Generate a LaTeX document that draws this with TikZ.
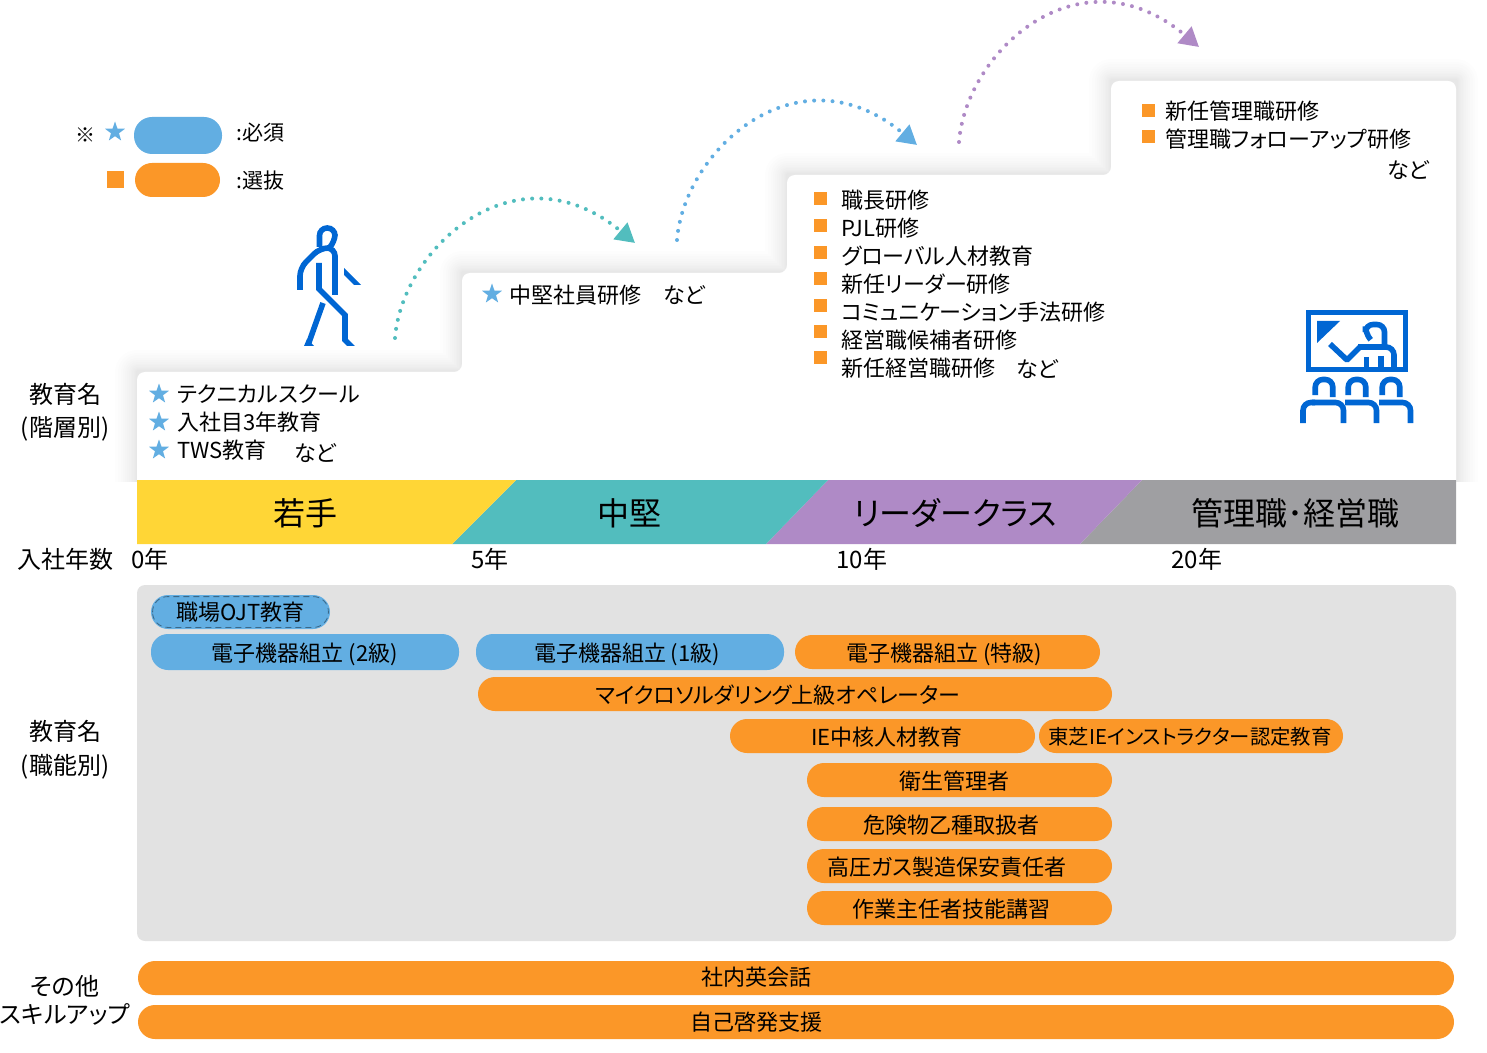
\documentclass[tikz,border=0pt]{standalone}
\usepackage{fontspec}
\setmainfont[RawFeature=+palt]{Noto Sans CJK JP}
\usetikzlibrary{positioning}
\usetikzlibrary{shapes.geometric,arrows.meta}
\definecolor{pillBlue}{HTML}{62AEE2}
\definecolor{pillOrange}{HTML}{FB9728}
\definecolor{bandYellow}{HTML}{FFD636}
\definecolor{bandTeal}{HTML}{52BDBE}
\definecolor{bandPurple}{HTML}{AF8AC6}
\definecolor{bandGray}{HTML}{9F9FA2}
\definecolor{panelGray}{HTML}{E2E2E2}
\definecolor{iconBlue}{HTML}{0066D3}
\definecolor{hopBlue}{HTML}{62AEE2}
\tikzset{
    pill/.style={rounded corners=8.5pt, inner sep=0pt, minimum height=17pt, text height=9.4pt, text depth=0pt, font=\fontsize{11}{13}\selectfont},
    pillB/.style={pill, fill=pillBlue, minimum width=#1*0.5pt},
    pillO/.style={pill, fill=pillOrange, minimum width=#1*0.5pt},
    pillText/.style={inner sep=0pt, text height=9.4pt, text depth=0pt, font=\fontsize{11}{13}\selectfont},
    bandText/.style={font=\fontsize{16}{18}\selectfont, inner sep=0pt},
    sideText/.style={font=\fontsize{12}{14}\selectfont, text height=9pt, text depth=0pt, inner sep=0pt},
    listText/.style={anchor=west, inner sep=0pt, text height=8.4pt, text depth=0pt, font=\fontsize{11}{13}\selectfont},
    starMark/.style={star, star points=5, star point ratio=2.5, fill=pillBlue, inner sep=0pt, minimum size=10.5pt},
    squareMark/.style={rectangle, fill=pillOrange, inner sep=0pt, minimum size=6.5pt},
    hop/.style={line width=2pt, dash pattern=on 0pt off 4.6pt, line cap=round, -{Triangle[length=9.5pt,width=10.5pt]}},
    icon/.style={iconBlue, line width=2.8pt},
}
\tikzset{
    walker/.pic={
		\clip (-2,-2) rectangle (70,121);
		\draw[icon, rounded corners=3.8pt] (22.5,22) -- (22.5,3) -- (38,3) -- (38,17) -- (33,22);
		\draw[icon, rounded corners=4pt] (3,65) -- (3,43) -- (23,23) -- (38,23) -- (38,70);
		\draw[icon] (22,38) -- (22,64) -- (48,90) -- (48,115) -- (57,124);
		\draw[icon] (26,78) -- (10,123);
		\fill[iconBlue] (10,114) -- (17,121) -- (7,121) -- cycle;
		\fill[iconBlue] (47,43) -- (64,60) -- (57,60) -- (47,50) -- cycle;
	}
}
\tikzset{
    seat/.pic={
		\draw[icon, rounded corners=3.8pt] (-8.75,18) -- (-8.75,2.5) -- (8.75,2.5) -- (8.75,20);
		\draw[icon, rounded corners=4pt] (-12,25.5) -- (19.5,25.5) -- (19.5,46);
	}
}
\begin{document}
\begin{tikzpicture}[x=0.5pt,y=-0.5pt]
	\useasboundingbox (0,0) rectangle (1487,1053);
	%stepped panel
	\foreach \w in {44,38,33,28,24,20,16,13,10,7,5,3}{
		\draw[black, opacity=0.006, line width=\w*0.5pt, line join=round] (137,482) -- (137,372) -- (462,372) -- (462,273) -- (787,273) -- (787,175) -- (1111,175) -- (1111,81) -- (1456,81) -- (1456,482);
	}
	\fill[white, rounded corners=4pt] (137,490) -- (137,372) -- (462,372) -- (462,273) -- (787,273) -- (787,175) -- (1111,175) -- (1111,81) -- (1456,81) -- (1456,490) -- cycle;
	%bands
	\fill[bandGray] (1142,480) -- (1456,480) -- (1456,544) -- (1080,544) -- cycle;
	\fill[bandPurple] (828,480) -- (1142,480) -- (1080,544) -- (766,544) -- cycle;
	\fill[bandTeal] (516,480) -- (828,480) -- (766,544) -- (452,544) -- cycle;
	\fill[bandYellow] (137,480) -- (516,480) -- (452,544) -- (137,544) -- cycle;
	\node[bandText] (young) at (305,513) {若手};
	\node[bandText] (middle) at (629,513) {中堅};
	\node[bandText] (leader) at (955,513) {リーダークラス};
	\node[bandText] (manager) at (1295,513) {管理職･経営職};
	%years
	\node[sideText] (joined) at (66,559) {入社年数};
	\node[sideText, anchor=west] (y0) at (131,559) {0年};
	\node[sideText, anchor=west] (y5) at (471,559) {5年};
	\node[sideText, anchor=west] (y10) at (836,559) {10年};
	\node[sideText, anchor=west] (y20) at (1171,559) {20年};
	%side labels
	\node[sideText] (rankA) at (65,394) {教育名};
	\node[sideText] (rankB) at (65,427) {(階層別)};
	\node[sideText] (jobA) at (65,731) {教育名};
	\node[sideText] (jobB) at (65,765) {(職能別)};
	\node[sideText] (otherA) at (65,986) {その他};
	\node[sideText] (otherB) at (65,1014) {スキルアップ};
	%legend
	\node[inner sep=0pt, font=\fontsize{10}{12}\selectfont] (note) at (85,135) {※};
	\node[starMark] (legStar) at (115,132) {};
	\node[squareMark, minimum size=8.5pt] (legSquare) at (115.5,179.5) {};
	\node[pillB=88, minimum height=18.5pt, rounded corners=9pt] (legBlue) at (178,135.5) {};
	\node[pillO=85] (legOrange) at (177.5,180) {};
	\node[listText, font=\fontsize{10.5}{13}\selectfont] (legMust) at (236,132) {:必須};
	\node[listText, font=\fontsize{10.5}{13}\selectfont] (legPick) at (236,180) {:選抜};
	%step lists
	\foreach \i/\ys/\yt/\txt in {1/394/394/テクニカルスクール,2/422/422/入社目3年教育,3/450/450/TWS教育}{
		\node[starMark] (sA\i) at (159,\ys) {};
		\node[listText] (tA\i) at (177,\yt) {\txt};
	}
	\node[listText] (tA4) at (294,453) {など};
	\node[starMark] (sB1) at (492,294) {};
	\node[listText] (tB1) at (509,295) {中堅社員研修};
	\node[listText] (tB2) at (663,295) {など};
	\foreach \i/\ys/\yt/\txt in {1/199/200/職長研修,2/226/228/PJL研修,3/253/256/グローバル人材教育,4/279/284/新任リーダー研修,5/306/312/コミュニケーション手法研修,6/332/340/経営職候補者研修,7/358/368/新任経営職研修}{
		\node[squareMark] (sC\i) at (820,\ys) {};
		\node[listText] (tC\i) at (841,\yt) {\txt};
	}
	\node[listText] (tC8) at (1016,369) {など};
	\foreach \i/\ys/\yt/\txt in {1/111/111/新任管理職研修,2/137/139/管理職フォローアップ研修}{
		\node[squareMark] (sD\i) at (1148,\ys) {};
		\node[listText] (tD\i) at (1165,\yt) {\txt};
	}
	\node[listText] (tD3) at (1387,170) {など};
	%hops
	\coordinate (hopA) at (395,338);
	\coordinate (hopB) at (635,243);
	\coordinate (hopC) at (677,240);
	\coordinate (hopD) at (917,145);
	\coordinate (hopE) at (959,142);
	\coordinate (hopF) at (1199,47);
	\draw[hop, bandTeal] (hopA) .. controls (402,248) and (516,144) .. (hopB);
	\draw[hop, hopBlue] (hopC) .. controls (684,150) and (798,46) .. (hopD);
	\draw[hop, bandPurple] (hopE) .. controls (966,51) and (1080,-53) .. (hopF);
	%icons
	\pic at (297,225) {walker};
	\draw[icon] (1308.5,312.5) rectangle (1405.5,369.5);
	\fill[iconBlue] (1317,321) -- (1340,321) -- (1317,343) -- cycle;
	\draw[icon, rounded corners=3.8pt] (1370,339) -- (1365.5,334) -- (1365.5,324.5) -- (1384.5,324.5) -- (1384.5,347);
	\draw[icon, rounded corners=0.5pt] (1330,344) -- (1347,360) -- (1360,347);
	\draw[icon, rounded corners=4pt] (1358,347) -- (1394,347) -- (1394,372);
	\draw[icon] (1366.5,357) -- (1366.5,372);
	\draw[icon] (1381,356) -- (1381,372);
	\pic at (1324,377) {seat};
	\draw[icon, rounded corners=4pt] (1303,423) -- (1303,402.5) -- (1315,402.5);
	\pic at (1357,377) {seat};
	\pic at (1391,377) {seat};
	%job panel
	\fill[panelGray, rounded corners=4pt] (137,585) rectangle (1456,941);
	\node[pillB=179, text height=8.4pt] (ojt) at (240.5,612) {職場OJT教育};
	\draw[black!40!pillBlue, densely dashed, line width=0.4pt, rounded corners=7.5pt] ([shift={(2,-2)}]ojt.south west) rectangle ([shift={(-2,2)}]ojt.north east);
	\node[pillB=308, minimum height=18pt] (elecB) at (305,652) {電子機器組立 (2級)};
	\node[pillB=308, minimum height=18pt] (elecA) at (630,652) {};
	\node[pillText] (elecAT) at (627,652) {電子機器組立 (1級)};
	\node[pillO=305] (elecS) at (947.5,652) {};
	\node[pillText] (elecST) at (944,652) {電子機器組立 (特級)};
	\node[pillO=634] (solder) at (795,694) {};
	\node[pillText] (solderT) at (778,694) {マイクロソルダリング上級オペレーター};
	\node[pillO=305] (coreIE) at (882.5,736) {};
	\node[pillText] (coreIET) at (887,736) {IE中核人材教育};
	\node[pillO=304] (toshibaIE) at (1191,736) {};
	\node[pillText, font=\fontsize{10.2}{13}\selectfont] (toshibaIET) at (1190,735.5) {東芝IEインストラクター認定教育};
	\node[pillO=305] (hygiene) at (959.5,780) {};
	\node[pillText] (hygieneT) at (954,780) {衛生管理者};
	\node[pillO=305] (hazard) at (959.5,824) {};
	\node[pillText] (hazardT) at (951,824) {危険物乙種取扱者};
	\node[pillO=305] (gas) at (959.5,866) {};
	\node[pillText] (gasT) at (947,866) {高圧ガス製造保安責任者};
	\node[pillO=305] (chief) at (959.5,908) {};
	\node[pillText] (chiefT) at (951,908) {作業主任者技能講習};
	\node[pillO=1316] (english) at (796,978) {};
	\node[pillText] (englishT) at (756,976) {社内英会話};
	\node[pillO=1316] (self) at (796,1022) {};
	\node[pillText] (selfT) at (756,1021) {自己啓発支援};
\end{tikzpicture}
\end{document}
